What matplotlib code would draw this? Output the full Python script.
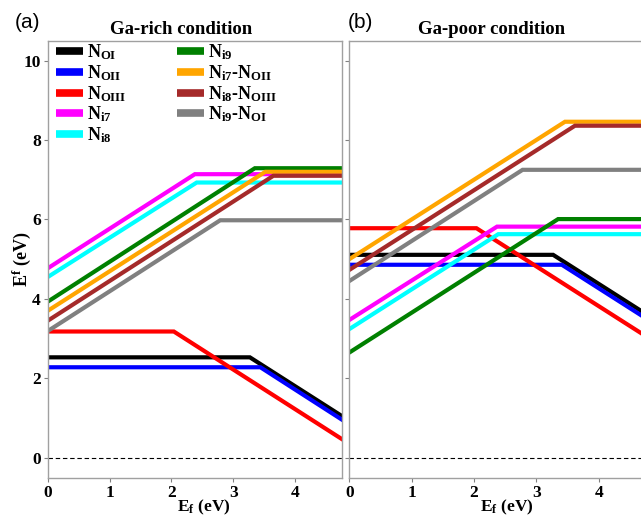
import matplotlib
matplotlib.use("Agg")
import matplotlib.pyplot as plt
from matplotlib.lines import Line2D

plt.rcParams["font.family"] = ["Liberation Serif", "DejaVu Serif"]
plt.rcParams["font.weight"] = "bold"
plt.rcParams["axes.labelweight"] = "bold"
plt.rcParams["mathtext.fontset"] = "custom"
plt.rcParams["mathtext.rm"] = "Liberation Serif:bold"
plt.rcParams["mathtext.bf"] = "Liberation Serif:bold"
plt.rcParams["mathtext.it"] = "Liberation Serif:bold"

X_MAX = 4.76

LABELS = [r"$\mathbf{N_{OI}}$", r"$\mathbf{N_{OII}}$", r"$\mathbf{N_{OIII}}$",
          r"$\mathbf{N_{i7}}$", r"$\mathbf{N_{i8}}$", r"$\mathbf{N_{i9}}$",
          r"$\mathbf{N_{i7}}$-$\mathbf{N_{OII}}$",
          r"$\mathbf{N_{i8}}$-$\mathbf{N_{OIII}}$",
          r"$\mathbf{N_{i9}}$-$\mathbf{N_{OI}}$"]
COLORS = ["black", "#0000ff", "#ff0000", "#ff00ff", "#00ffff",
          "#008000", "#ffa500", "#a52a2a", "#808080"]

# kink points (Ef, formation energy) for each defect, Ga-rich
rich_x = [[0, 3.27, X_MAX], [0, 3.44, X_MAX], [0, 2.04, X_MAX],
          [0, 2.38, X_MAX], [0, 2.41, X_MAX], [0, 3.35, X_MAX],
          [0, 3.52, X_MAX], [0, 3.65, X_MAX], [0, 2.79, X_MAX]]
rich_y = [[2.53, 2.53, 1.05], [2.28, 2.28, 0.96], [3.18, 3.18, 0.47],
          [4.77, 7.14, 7.14], [4.55, 6.93, 6.93], [3.93, 7.29, 7.29],
          [3.70, 7.20, 7.20], [3.45, 7.10, 7.10], [3.19, 5.98, 5.98]]

# Ga-poor
poor_x = [[0, 3.27, X_MAX], [0, 3.41, X_MAX], [0, 2.04, X_MAX],
          [0, 2.37, X_MAX], [0, 2.39, X_MAX], [0, 3.35, X_MAX],
          [0, 3.46, X_MAX], [0, 3.62, X_MAX], [0, 2.78, X_MAX]]
poor_y = [[5.11, 5.11, 3.62], [4.86, 4.86, 3.51], [5.78, 5.78, 3.06],
          [3.47, 5.82, 5.82], [3.24, 5.63, 5.63], [2.65, 6.01, 6.01],
          [5.00, 8.46, 8.46], [4.73, 8.36, 8.36], [4.45, 7.25, 7.25]]

fig = plt.figure(figsize=(6.41, 5.19), dpi=100)
W, H = 641, 519
ax_a = fig.add_axes([47.7 / W, 1 - 477.7 / H, (342 - 47.7) / W, (477.7 - 40.7) / H])
ax_b = fig.add_axes([349.3 / W, 1 - 477.7 / H, (646 - 349.3) / W, (477.7 - 40.7) / H])

for ax, xs, ys in [(ax_a, rich_x, rich_y), (ax_b, poor_x, poor_y)]:
    ax.axhline(0, color="black", lw=0.8, ls=(0, (4, 2.5)), zorder=1)
    for x, y, c, lab in zip(xs, ys, COLORS, LABELS):
        ax.plot(x, y, color=c, lw=3, label=lab, solid_joinstyle="miter", zorder=2)
    ax.set_xlim(0, X_MAX)
    ax.set_ylim(-0.5, 10.5)
    ax.set_xticks([0, 1, 2, 3, 4])
    ax.set_yticks([0, 2, 4, 6, 8, 10])
    for s in ax.spines.values():
        s.set_color("#a0a0a0")
        s.set_linewidth(1.0)
    ax.tick_params(direction="out", length=3, width=0.8, color="#808080",
                   labelsize=12.5, pad=2)
    ax.set_xlabel(r"$\mathbf{E_f}$ (eV)", fontsize=12.5)
    ax.xaxis.set_label_coords(0.53, -0.046)

ax_b.tick_params(labelleft=False)
ax_a.set_ylabel(r"$\mathbf{E^f}$ (eV)", fontsize=13)
ax_a.yaxis.set_label_coords(-0.05, 0.5)

ax_a.text(0.453, 1.006, "Ga-rich condition", transform=ax_a.transAxes,
          ha="center", va="bottom", fontsize=13.5)
ax_b.text(0.48, 1.006, "Ga-poor condition", transform=ax_b.transAxes,
          ha="center", va="bottom", fontsize=13.5)
fig.text(27 / W, 1 - 23 / H, "(a)", ha="center", va="center", fontsize=15,
         family="Liberation Sans", weight="normal")
fig.text(360 / W, 1 - 23 / H, "(b)", ha="center", va="center", fontsize=15,
         family="Liberation Sans", weight="normal")

handles = [Line2D([], [], color=c, lw=5.5, solid_capstyle="butt") for c in COLORS]
ax_a.legend(handles, LABELS, ncol=2, loc="upper left", frameon=False,
            fontsize=13, handlelength=1.5, handletextpad=0.2, labelspacing=0.05,
            columnspacing=2.8, borderaxespad=0.0, bbox_to_anchor=(0.005, 1.012))

fig.savefig("out.png", dpi=100)
